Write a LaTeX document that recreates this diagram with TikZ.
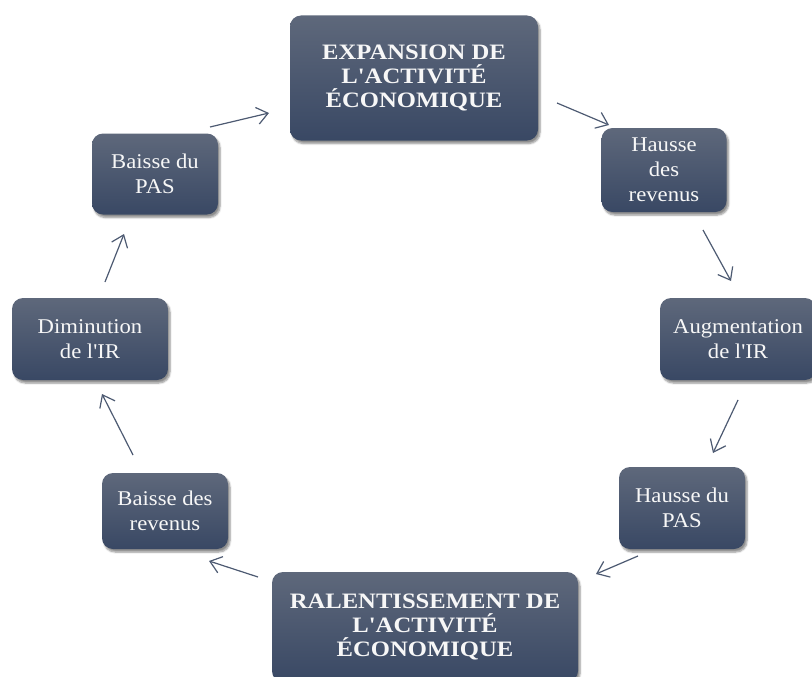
\documentclass[tikz,border=0pt]{standalone}
\usepackage{fontspec}
\setmainfont[Ligatures=TeXOff]{Liberation Serif}
\newfontfamily\boxfont[Ligatures=TeXOff,FakeStretch=1.08]{Liberation Serif}
\newfontfamily\bigfont[Ligatures=TeXOff,FakeStretch=1.12]{Liberation Serif}
\usetikzlibrary{arrows.meta,shadows.blur}
\definecolor{boxtop}{HTML}{5E687B}
\definecolor{boxbot}{HTML}{394864}
\definecolor{arr}{HTML}{4D5A72}
\tikzset{
  box/.style={rectangle, rounded corners=11pt, top color=boxtop, bottom color=boxbot,
    draw=none, text=white!94!gray, align=center, inner sep=2pt,
    blur shadow={shadow xshift=2pt, shadow yshift=-3pt, shadow blur steps=6, shadow opacity=45},
    font=\boxfont\fontsize{21}{25}\selectfont},
  bigbox/.style={box, font=\bigfont\bfseries\fontsize{22}{24}\selectfont},
  flow/.style={draw=arr, line width=1.2pt, -{Straight Barb[length=11pt,width=17pt,line width=1.2pt]}},
}
\begin{document}
\begin{tikzpicture}[x=1pt,y=-1pt]
\useasboundingbox (0,0) rectangle (812,677);
\node[bigbox, minimum width=248pt, minimum height=125pt] (top) at (414,78) {EXPANSION DE\\L'ACTIVITÉ\\ÉCONOMIQUE};
\node[box, minimum width=125pt, minimum height=84pt] (hr) at (664,170) {Hausse\\des\\revenus};
\node[box, minimum width=156pt, minimum height=82pt] (aug) at (738,339) {Augmentation\\de l'IR};
\node[box, minimum width=126pt, minimum height=82pt] (hp) at (682,508) {Hausse du\\PAS};
\node[bigbox, minimum width=306pt, minimum height=110pt] (bot) at (425,627) {RALENTISSEMENT DE\\L'ACTIVITÉ\\ÉCONOMIQUE};
\node[box, minimum width=126pt, minimum height=76pt] (br) at (165,511) {Baisse des\\revenus};
\node[box, minimum width=156pt, minimum height=82pt] (dim) at (90,339) {Diminution\\de l'IR};
\node[box, minimum width=126pt, minimum height=81pt] (bp) at (155,174) {Baisse du\\PAS};
% arrow end points
\coordinate (a1s) at (210,127); \coordinate (a1e) at (269,113);
\coordinate (a2s) at (557,103); \coordinate (a2e) at (609,125);
\coordinate (a3s) at (703,230); \coordinate (a3e) at (731,281);
\coordinate (a4s) at (738,400); \coordinate (a4e) at (713,453);
\coordinate (a5s) at (638,556); \coordinate (a5e) at (596,574);
\coordinate (a6s) at (258,577); \coordinate (a6e) at (209,561);
\coordinate (a7s) at (133,455); \coordinate (a7e) at (102,394);
\coordinate (a8s) at (105,282); \coordinate (a8e) at (124,234);
\draw[flow] (a1s) -- (a1e);
\draw[flow] (a2s) -- (a2e);
\draw[flow] (a3s) -- (a3e);
\draw[flow] (a4s) -- (a4e);
\draw[flow] (a5s) -- (a5e);
\draw[flow] (a6s) -- (a6e);
\draw[flow] (a7s) -- (a7e);
\draw[flow] (a8s) -- (a8e);
\end{tikzpicture}
\end{document}
